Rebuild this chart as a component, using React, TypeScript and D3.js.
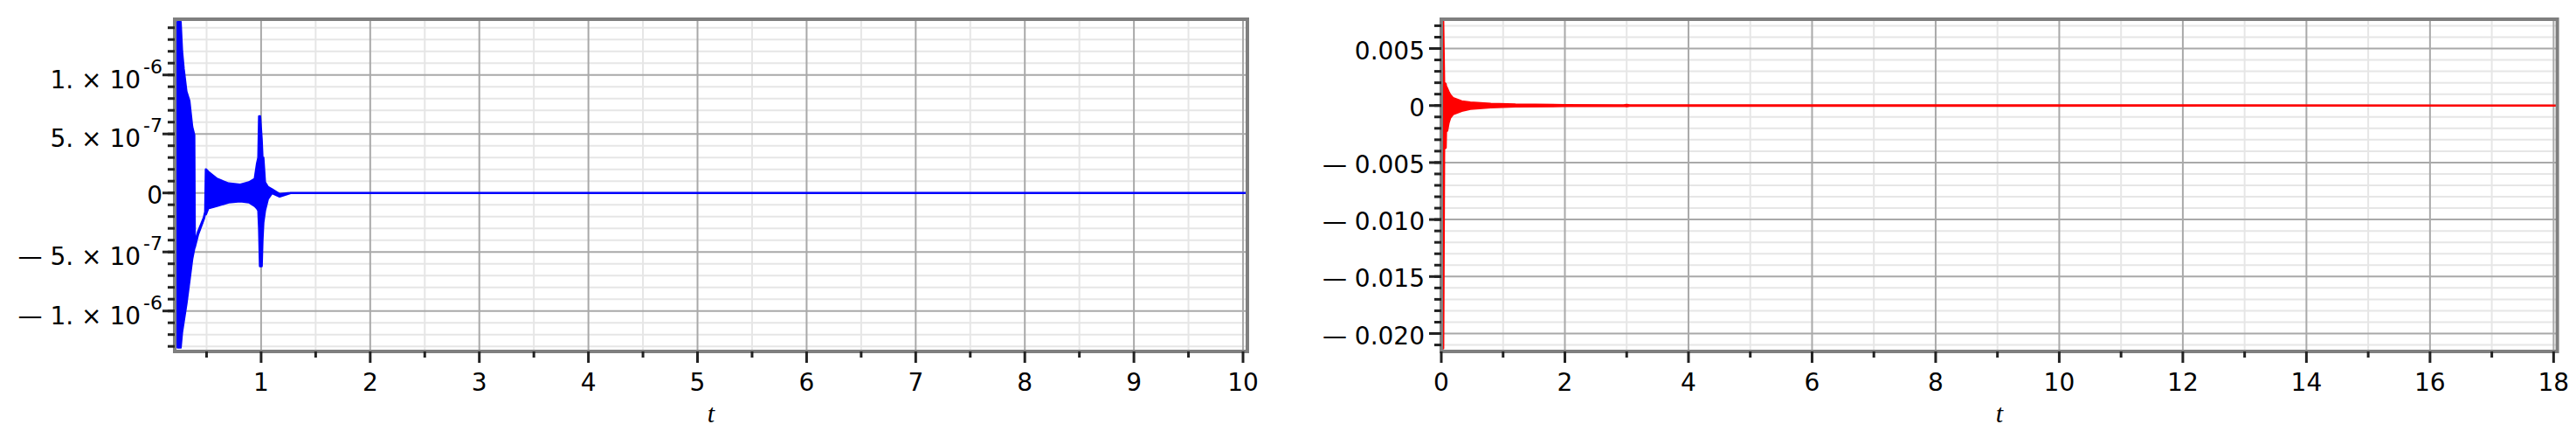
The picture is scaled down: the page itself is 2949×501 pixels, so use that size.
import React from "react";
import * as d3 from "d3";

// ---------- Left panel (blue) : envelope of the oscillating signal ----------
const blueT = [0.235, 0.262, 0.275, 0.29, 0.315, 0.342, 0.368, 0.387, 0.392, 0.422, 0.475, 0.488, 0.494, 0.515, 0.595, 0.702, 0.809, 0.889, 0.942, 0.963, 0.975, 0.982, 0.99, 1.005, 1.012, 1.02, 1.035, 1.062, 1.1, 1.17, 1.27, 10.04];
const blueHi = [1.45e-6, 1.45e-6, 1.2e-6, 1.05e-6, 0.86e-6, 0.78e-6, 0.56e-6, 0.49e-6, -0.44e-6, -0.33e-6, -0.21e-6, -0.16e-6, 0.2e-6, 0.18e-6, 0.12e-6, 0.08e-6, 0.07e-6, 0.09e-6, 0.12e-6, 0.25e-6, 0.3e-6, 0.65e-6, 0.65e-6, 0.45e-6, 0.3e-6, 0.3e-6, 0.09e-6, 0.05e-6, 0.03e-6, -0.01e-6, 0, 0];
const blueLo = [-1.31e-6, -1.31e-6, -1.18e-6, -1.09e-6, -0.94e-6, -0.75e-6, -0.56e-6, -0.47e-6, -0.46e-6, -0.35e-6, -0.22e-6, -0.17e-6, -0.18e-6, -0.13e-6, -0.11e-6, -0.08e-6, -0.07e-6, -0.08e-6, -0.11e-6, -0.13e-6, -0.15e-6, -0.3e-6, -0.62e-6, -0.62e-6, -0.4e-6, -0.25e-6, -0.15e-6, -0.05e-6, 0, -0.03e-6, 0, 0];

const leftXDomain = [0.208, 10.04];
const leftYDomain = [-1.343e-6, 1.472e-6];
const leftXMajor = [1, 2, 3, 4, 5, 6, 7, 8, 9, 10];
const leftXLabels = ["1", "2", "3", "4", "5", "6", "7", "8", "9", "10"];
const leftXMinor = [0.5, 1.5, 2.5, 3.5, 4.5, 5.5, 6.5, 7.5, 8.5, 9.5];
const leftYMajor = [-1e-6, -5e-7, 0, 5e-7, 1e-6];
const leftYMant = ["— 1.", "— 5.", "0", "5.", "1."];
const leftYExp = ["-6", "-7", "", "-7", "-6"];
const leftYMinor = d3.range(-13, 15).map((i) => i * 1e-7);

// ---------- Right panel (red) ----------
const redT = [0, 0.03, 0.045, 0.07, 0.075, 0.094, 0.118, 0.141, 0.19, 0.33, 0.47, 0.8, 1.2, 2.0, 2.95, 3.0, 3.05, 18.06];
const redHi = [7.4e-3, 7.4e-3, 2.0e-3, 1.9e-3, 1.7e-3, 1.5e-3, 1.2e-3, 0.95e-3, 0.65e-3, 0.36e-3, 0.26e-3, 0.15e-3, 0.08e-3, 0.04e-3, 0.02e-3, 0.06e-3, 0.02e-3, 0];
const redLo = [-21.3e-3, -21.3e-3, -3.8e-3, -3.7e-3, -2.3e-3, -2.2e-3, -1.5e-3, -1.1e-3, -0.75e-3, -0.46e-3, -0.28e-3, -0.15e-3, -0.08e-3, -0.04e-3, -0.02e-3, -0.06e-3, -0.02e-3, 0];

const rightXDomain = [0, 18.06];
const rightYDomain = [-0.02157, 0.00757];
const rightXMajor = [0, 2, 4, 6, 8, 10, 12, 14, 16, 18];
const rightXLabels = ["0", "2", "4", "6", "8", "10", "12", "14", "16", "18"];
const rightXMinor = [1, 3, 5, 7, 9, 11, 13, 15, 17];
const rightYMajor = [-0.02, -0.015, -0.01, -0.005, 0, 0.005];
const rightYMant = ["— 0.020", "— 0.015", "— 0.010", "— 0.005", "0", "0.005"];
const rightYExp = ["", "", "", "", "", ""];
const rightYMinor = d3.range(-21, 8).map((i) => i * 0.001);

const FONT = "'DejaVu Sans', sans-serif";

type PanelProps = {
  id: string;
  rect: { x0: number; x1: number; y0: number; y1: number };
  xDomain: number[];
  yDomain: number[];
  xMajor: number[];
  xLabels: string[];
  xMinor: number[];
  yMajor: number[];
  yMant: string[];
  yExp: string[];
  yMinor: number[];
  t: number[];
  hi: number[];
  lo: number[];
  color: string;
  labelRight: number;
};

function Panel(p: PanelProps) {
  const { rect } = p;
  const x = d3.scaleLinear().domain(p.xDomain).range([rect.x0, rect.x1]);
  const y = d3.scaleLinear().domain(p.yDomain).range([rect.y1, rect.y0]);
  const pts = p.t.map((tv, i) => ({ t: tv, hi: p.hi[i], lo: p.lo[i] }));
  const area = d3
    .area<{ t: number; hi: number; lo: number }>()
    .x((d) => x(d.t))
    .y0((d) => y(d.lo))
    .y1((d) => y(d.hi));
  const inY = (v: number) => y(v) > rect.y0 + 2 && y(v) < rect.y1 - 2;
  const inX = (v: number) => x(v) > rect.x0 + 2 && x(v) < rect.x1 - 2;
  const minorY = p.yMinor.filter((v) => !p.yMajor.some((m) => Math.abs(m - v) < 1e-12));
  return (
    <g>
      <defs>
        <clipPath id={"clip-" + p.id}>
          <rect x={rect.x0} y={rect.y0} width={rect.x1 - rect.x0} height={rect.y1 - rect.y0} />
        </clipPath>
      </defs>
      <rect x={rect.x0} y={rect.y0} width={rect.x1 - rect.x0} height={rect.y1 - rect.y0} fill="#fff" />
      {/* minor grid */}
      {minorY.filter(inY).map((v, i) => (
        <line key={"mgy" + i} x1={rect.x0} x2={rect.x1} y1={y(v)} y2={y(v)} stroke="#e6e6e6" strokeWidth={2} />
      ))}
      {p.xMinor.filter(inX).map((v, i) => (
        <line key={"mgx" + i} x1={x(v)} x2={x(v)} y1={rect.y0} y2={rect.y1} stroke="#e6e6e6" strokeWidth={2} />
      ))}
      {/* major grid */}
      {p.yMajor.filter(inY).map((v, i) => (
        <line key={"gy" + i} x1={rect.x0} x2={rect.x1} y1={y(v)} y2={y(v)} stroke="#a9a9a9" strokeWidth={2} />
      ))}
      {p.xMajor.filter(inX).map((v, i) => (
        <line key={"gx" + i} x1={x(v)} x2={x(v)} y1={rect.y0} y2={rect.y1} stroke="#a9a9a9" strokeWidth={2} />
      ))}
      {/* data */}
      <g clipPath={`url(#clip-${p.id})`}>
        <path d={area(pts) || ""} fill={p.color} stroke={p.color} strokeWidth={2.6} strokeLinejoin="round" />
      </g>
      {/* frame */}
      <rect x={rect.x0} y={rect.y0} width={rect.x1 - rect.x0} height={rect.y1 - rect.y0} fill="none" stroke="#7f7f7f" strokeWidth={4} />
      {/* y ticks */}
      {p.yMinor.map((v, i) => (
        <line key={"ty" + i} x1={rect.x0 - 8} x2={rect.x0} y1={y(v)} y2={y(v)} stroke="#222" strokeWidth={3} />
      ))}
      {p.yMajor.map((v, i) => (
        <line key={"tY" + i} x1={rect.x0 - 14} x2={rect.x0} y1={y(v)} y2={y(v)} stroke="#222" strokeWidth={3} />
      ))}
      {/* x ticks */}
      {p.xMinor.map((v, i) => (
        <line key={"tx" + i} x1={x(v)} x2={x(v)} y1={rect.y1} y2={rect.y1 + 7} stroke="#222" strokeWidth={3} />
      ))}
      {p.xMajor.map((v, i) => (
        <line key={"tX" + i} x1={x(v)} x2={x(v)} y1={rect.y1} y2={rect.y1 + 13} stroke="#222" strokeWidth={3} />
      ))}
      {/* x labels */}
      {p.xMajor.map((v, i) => (
        <text key={"lx" + i} x={x(v)} y={447} textAnchor="middle" fontFamily={FONT} fontSize={28} fill="#000">
          {p.xLabels[i]}
        </text>
      ))}
      {/* y labels */}
      {p.yMajor.map((v, i) => {
        const e = p.yExp[i];
        if (!e) {
          return (
            <text key={"ly" + i} x={p.labelRight} y={y(v) + 12} textAnchor="end" fontFamily={FONT} fontSize={28} fill="#000">
              {p.yMant[i]}
            </text>
          );
        }
        return (
          <text key={"ly" + i} x={p.labelRight} y={y(v) + 15} textAnchor="end" fontFamily={FONT} fontSize={28} fill="#000">
            {p.yMant[i] + " × 10"}
            <tspan dx={3} dy={-17} fontSize={22}>
              {e}
            </tspan>
          </text>
        );
      })}
      {/* axis title */}
      <text x={(rect.x0 + rect.x1) / 2} y={483} textAnchor="middle" fontFamily="'Liberation Serif', serif" fontStyle="italic" fontSize={30} fill="#000">
        t
      </text>
    </g>
  );
}

export default function App() {
  return (
    <svg width={2949} height={501} style={{ position: "absolute", left: 0, top: 0, background: "#fff" }}>
      <rect x={0} y={0} width={2949} height={501} fill="#fff" />
      <Panel
        id="left"
        rect={{ x0: 200, x1: 1428, y0: 22, y1: 402 }}
        xDomain={leftXDomain}
        yDomain={leftYDomain}
        xMajor={leftXMajor}
        xLabels={leftXLabels}
        xMinor={leftXMinor}
        yMajor={leftYMajor}
        yMant={leftYMant}
        yExp={leftYExp}
        yMinor={leftYMinor}
        t={blueT}
        hi={blueHi}
        lo={blueLo}
        color="#0000ff"
        labelRight={186}
      />
      <Panel
        id="right"
        rect={{ x0: 1650, x1: 2927.6, y0: 22, y1: 402 }}
        xDomain={rightXDomain}
        yDomain={rightYDomain}
        xMajor={rightXMajor}
        xLabels={rightXLabels}
        xMinor={rightXMinor}
        yMajor={rightYMajor}
        yMant={rightYMant}
        yExp={rightYExp}
        yMinor={rightYMinor}
        t={redT}
        hi={redHi}
        lo={redLo}
        color="#ff0000"
        labelRight={1631}
      />
    </svg>
  );
}
